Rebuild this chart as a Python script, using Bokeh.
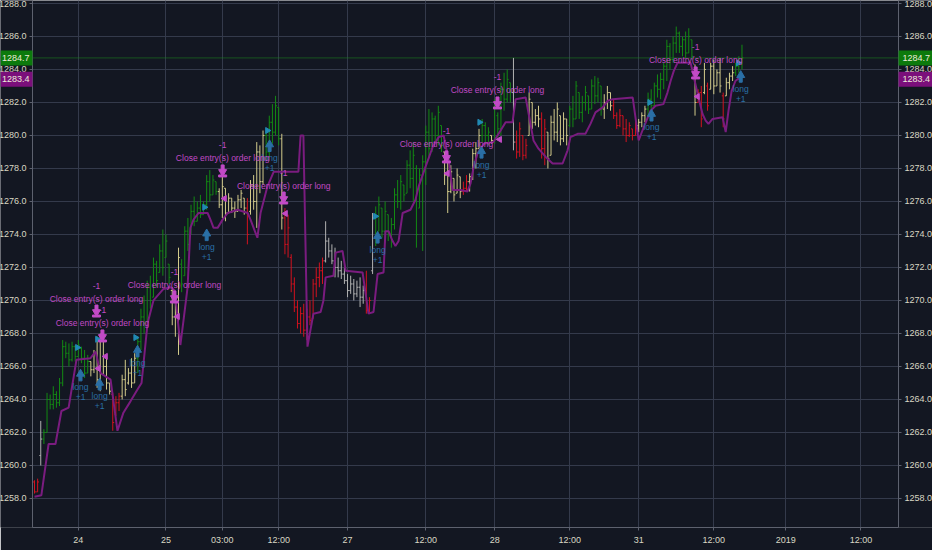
import math
from bokeh.plotting import figure
from bokeh.models import (LinearAxis, FixedTicker, SingleIntervalTicker, NumeralTickFormatter,
                          Span, Label, ColumnDataSource, Range1d, BoxAnnotation)
from bokeh.core.properties import value
from bokeh.embed import file_html
from bokeh.resources import INLINE

# ---------------- data ----------------
x_tick_pos = [14, 42, 60, 78, 100, 125, 147, 171, 193, 217, 240, 264]
x_tick_labels = ["24", "25", "03:00", "12:00", "27", "12:00", "28", "12:00", "31", "12:00", "2019", "12:00"]

bar_high = [
    1259.1, 1259.2, 1262.7, 1262.2, 1264.4, 1264.3, 1264.8, 1264.5, 1265.3, 1267.6,
    1267.5, 1267.4, 1267.5, 1267.3, 1267.6, 1267.2, 1267.0, 1266.7, 1266.3, 1267.0,
    1267.8, 1268.0, 1267.6, 1266.6, 1265.0, 1264.4, 1264.2, 1264.4, 1265.5, 1266.4,
    1265.9, 1266.5, 1266.8, 1267.8, 1269.5, 1270.3, 1271.2, 1271.5, 1272.6, 1272.4,
    1273.4, 1274.3, 1274.0, 1272.2, 1270.8, 1270.2, 1273.2, 1272.5, 1274.5, 1275.0,
    1275.8, 1276.3, 1276.0, 1276.4, 1276.0, 1277.6, 1277.9, 1277.6, 1277.2, 1276.8,
    1277.6, 1276.8, 1276.5, 1276.2, 1276.0, 1276.4, 1276.7, 1276.2, 1276.2, 1277.3,
    1277.6, 1279.6, 1279.4, 1280.3, 1280.2, 1281.2, 1281.9, 1282.4, 1281.7, 1280.1,
    1275.6, 1275.2, 1272.8, 1271.4, 1270.0, 1269.6, 1269.8, 1269.5, 1270.0, 1271.3,
    1272.0, 1272.3, 1272.6, 1274.8, 1273.8, 1273.4, 1273.2, 1272.6, 1272.4, 1272.0,
    1271.6, 1271.5, 1271.3, 1271.2, 1271.4, 1270.9, 1271.8, 1270.2, 1275.3, 1275.7,
    1276.3, 1275.6, 1276.0, 1275.2, 1275.0, 1276.8, 1277.3, 1277.6, 1277.0, 1278.5,
    1279.1, 1279.6, 1278.2, 1278.0, 1278.8, 1280.6, 1281.6, 1281.4, 1281.2, 1281.8,
    1280.6, 1279.0, 1278.5, 1278.2, 1277.4, 1278.0, 1277.5, 1277.2, 1277.6, 1277.7,
    1279.2, 1279.6, 1280.4, 1281.0, 1280.8, 1280.5, 1280.0, 1282.2, 1281.4, 1283.2,
    1283.8, 1284.0, 1283.2, 1284.7, 1280.3, 1280.8, 1280.0, 1279.8, 1282.6, 1282.0,
    1281.6, 1281.8, 1281.4, 1281.0, 1280.2, 1281.2, 1281.6, 1282.0, 1281.2, 1281.4,
    1281.0, 1281.8, 1282.4, 1283.3, 1282.6, 1282.4, 1283.0, 1282.4, 1283.4, 1283.6,
    1283.5, 1283.0, 1282.5, 1283.0, 1282.6, 1282.2, 1281.4, 1281.6, 1281.2, 1281.0,
    1280.8, 1280.4, 1280.9, 1281.0, 1281.4, 1281.8, 1282.6, 1282.8, 1283.2, 1283.7,
    1283.8, 1284.4, 1285.8, 1285.6, 1286.0, 1286.6, 1286.3, 1286.0, 1286.3, 1286.5,
    1285.8, 1284.3, 1282.8, 1283.0, 1284.4, 1283.2, 1284.4, 1284.6, 1284.0, 1284.7,
    1282.6, 1283.5, 1283.8, 1284.2, 1284.4, 1284.8, 1285.5,
]
bar_low = [
    1258.3, 1258.4, 1260.0, 1261.3, 1262.0, 1263.4, 1263.4, 1263.5, 1263.6, 1264.8,
    1266.5, 1266.0, 1266.3, 1266.3, 1266.6, 1266.2, 1265.3, 1265.6, 1265.4, 1265.6,
    1264.7, 1264.5, 1265.5, 1264.6, 1264.3, 1262.1, 1263.0, 1263.3, 1264.0, 1264.2,
    1264.9, 1264.7, 1265.0, 1265.6, 1267.0, 1268.0, 1268.7, 1269.5, 1270.2, 1270.8,
    1271.7, 1271.5, 1272.6, 1271.0, 1268.5, 1267.8, 1266.7, 1270.5, 1271.5, 1273.0,
    1274.0, 1274.5, 1274.8, 1275.0, 1275.2, 1275.5, 1276.0, 1276.4, 1276.4, 1275.6,
    1275.0, 1274.8, 1275.3, 1275.3, 1275.0, 1275.4, 1275.6, 1275.2, 1273.4, 1275.2,
    1275.5, 1274.4, 1276.5, 1277.0, 1278.5, 1278.7, 1279.5, 1280.0, 1279.4, 1274.3,
    1272.8, 1272.6, 1270.5, 1269.3, 1268.3, 1268.0, 1267.8, 1267.6, 1268.5, 1268.9,
    1270.2, 1270.8, 1271.0, 1272.3, 1272.6, 1272.2, 1271.4, 1271.4, 1271.3, 1271.0,
    1270.2, 1270.4, 1270.0, 1270.2, 1269.6, 1269.8, 1269.2, 1269.3, 1271.6, 1273.3,
    1274.2, 1273.8, 1273.5, 1273.6, 1273.2, 1274.3, 1275.6, 1275.5, 1276.0, 1276.5,
    1276.8, 1276.0, 1273.2, 1275.6, 1273.0, 1277.0, 1278.6, 1279.0, 1279.6, 1279.4,
    1279.0, 1277.0, 1275.3, 1276.5, 1276.0, 1276.5, 1276.2, 1276.4, 1276.6, 1276.6,
    1277.3, 1278.0, 1279.2, 1279.6, 1279.6, 1279.4, 1279.5, 1279.5, 1279.8, 1280.0,
    1281.5, 1282.0, 1282.0, 1279.1, 1278.6, 1278.7, 1278.5, 1278.6, 1280.0, 1280.4,
    1280.6, 1280.5, 1278.6, 1278.2, 1278.0, 1278.8, 1279.7, 1279.6, 1279.4, 1279.6,
    1279.4, 1280.5, 1280.5, 1281.0, 1281.0, 1280.8, 1281.5, 1281.3, 1281.6, 1281.9,
    1282.0, 1281.2, 1281.0, 1281.6, 1281.5, 1281.0, 1280.4, 1280.5, 1280.0, 1279.6,
    1279.9, 1279.7, 1280.0, 1280.2, 1280.5, 1280.8, 1281.2, 1281.4, 1281.8, 1282.3,
    1282.2, 1282.8, 1283.3, 1284.0, 1284.4, 1285.0, 1285.0, 1284.8, 1284.7, 1285.0,
    1284.6, 1281.2, 1282.0, 1280.5, 1282.5, 1281.5, 1282.8, 1282.5, 1283.0, 1282.6,
    1280.5, 1282.4, 1282.8, 1283.3, 1283.6, 1283.8, 1284.0,
]
bar_open = [
    1259.0, 1258.4, 1260.6, 1261.6, 1262.0, 1264.0, 1263.7, 1264.3, 1263.8, 1265.0,
    1267.2, 1266.8, 1266.4, 1267.2, 1266.6, 1267.1, 1266.5, 1265.6, 1266.3, 1265.8,
    1266.8, 1265.2, 1267.6, 1266.0, 1265.0, 1264.3, 1263.1, 1263.8, 1264.2, 1265.2,
    1265.0, 1265.6, 1265.0, 1266.5, 1267.5, 1269.0, 1268.7, 1270.8, 1270.2, 1272.2,
    1271.7, 1273.0, 1272.6, 1272.2, 1270.6, 1269.0, 1269.0, 1272.2, 1271.5, 1274.2,
    1274.2, 1275.4, 1274.8, 1275.6, 1275.2, 1275.8, 1277.2, 1276.4, 1277.2, 1276.6,
    1275.8, 1276.8, 1275.3, 1276.2, 1275.6, 1275.4, 1276.1, 1276.2, 1275.6, 1275.4,
    1277.0, 1276.0, 1279.0, 1277.2, 1280.0, 1279.0, 1280.8, 1280.2, 1281.7, 1279.8,
    1275.0, 1273.4, 1272.6, 1271.0, 1269.6, 1268.6, 1269.2, 1268.2, 1269.0, 1268.9,
    1271.0, 1271.4, 1271.8, 1272.4, 1273.6, 1273.0, 1272.4, 1272.0, 1271.8, 1271.6,
    1271.2, 1270.6, 1271.0, 1270.4, 1270.8, 1270.2, 1270.6, 1269.4, 1271.8, 1275.0,
    1274.2, 1275.6, 1274.2, 1275.2, 1274.0, 1274.6, 1276.4, 1276.0, 1277.0, 1276.5,
    1278.2, 1277.4, 1278.0, 1275.6, 1277.6, 1278.4, 1280.2, 1279.2, 1281.0, 1280.0,
    1280.6, 1279.0, 1277.6, 1276.6, 1277.4, 1276.5, 1277.5, 1276.6, 1276.8, 1277.2,
    1277.5, 1278.9, 1279.2, 1280.0, 1280.6, 1280.0, 1280.0, 1279.7, 1281.2, 1280.4,
    1282.8, 1282.2, 1283.2, 1282.6, 1279.6, 1279.0, 1280.0, 1278.8, 1280.0, 1282.0,
    1280.8, 1281.2, 1281.0, 1279.2, 1280.2, 1278.8, 1280.8, 1280.2, 1281.2, 1279.8,
    1281.0, 1280.6, 1281.6, 1281.0, 1282.6, 1281.4, 1282.0, 1282.4, 1281.6, 1283.0,
    1282.4, 1283.0, 1281.6, 1282.0, 1282.6, 1281.8, 1281.2, 1280.6, 1281.2, 1280.4,
    1280.0, 1280.4, 1280.0, 1280.6, 1280.8, 1281.2, 1281.6, 1282.2, 1281.8, 1283.0,
    1282.8, 1283.4, 1284.2, 1285.4, 1284.6, 1285.6, 1286.2, 1285.4, 1285.8, 1285.0,
    1285.8, 1284.0, 1282.0, 1282.6, 1282.6, 1283.0, 1282.8, 1284.2, 1283.0, 1283.8,
    1282.4, 1282.4, 1283.2, 1283.6, 1283.8, 1284.2, 1284.4,
]
bar_close = [
    1258.4, 1259.0, 1261.6, 1262.0, 1264.0, 1263.7, 1264.3, 1263.8, 1265.0, 1267.2,
    1266.8, 1266.4, 1267.2, 1266.6, 1267.3, 1266.5, 1265.6, 1266.3, 1265.8, 1266.8,
    1265.2, 1267.6, 1266.0, 1265.0, 1264.5, 1262.6, 1263.8, 1264.2, 1265.2, 1264.6,
    1265.6, 1265.0, 1266.5, 1267.5, 1269.0, 1268.6, 1270.8, 1270.0, 1272.2, 1271.2,
    1273.0, 1272.0, 1273.6, 1271.4, 1269.0, 1269.6, 1272.6, 1271.0, 1274.2, 1273.4,
    1275.4, 1274.8, 1275.6, 1275.2, 1275.8, 1277.2, 1276.4, 1277.3, 1276.6, 1275.8,
    1276.9, 1275.3, 1276.2, 1275.6, 1275.4, 1276.1, 1276.5, 1275.6, 1274.0, 1277.0,
    1276.0, 1279.0, 1277.2, 1280.0, 1279.0, 1280.8, 1280.2, 1281.8, 1279.8, 1275.0,
    1273.4, 1274.4, 1271.0, 1269.6, 1268.6, 1269.2, 1268.2, 1269.0, 1268.8, 1271.0,
    1271.4, 1271.8, 1272.4, 1273.6, 1273.0, 1272.4, 1272.0, 1271.8, 1271.6, 1271.2,
    1270.6, 1271.0, 1270.4, 1270.8, 1270.2, 1270.6, 1269.4, 1270.0, 1275.0, 1274.0,
    1275.8, 1274.2, 1275.4, 1274.0, 1274.6, 1276.4, 1276.0, 1277.2, 1276.4, 1278.2,
    1277.4, 1278.8, 1274.0, 1277.6, 1278.4, 1280.2, 1279.2, 1281.0, 1280.0, 1281.4,
    1279.4, 1277.6, 1276.6, 1277.8, 1276.4, 1277.6, 1276.6, 1276.8, 1277.2, 1277.5,
    1278.9, 1279.2, 1280.0, 1280.6, 1280.0, 1280.2, 1279.7, 1281.8, 1280.4, 1282.8,
    1282.2, 1283.4, 1282.6, 1279.6, 1279.0, 1280.4, 1278.8, 1279.4, 1282.2, 1280.8,
    1281.2, 1281.0, 1279.2, 1280.4, 1278.6, 1280.8, 1280.2, 1281.6, 1279.8, 1281.0,
    1280.0, 1281.6, 1281.0, 1283.0, 1281.4, 1282.0, 1282.6, 1281.6, 1283.0, 1282.4,
    1283.2, 1281.6, 1282.0, 1282.6, 1281.8, 1281.2, 1280.6, 1281.2, 1280.4, 1280.0,
    1280.6, 1280.0, 1280.6, 1280.8, 1281.2, 1281.6, 1282.2, 1281.8, 1283.0, 1282.8,
    1283.4, 1284.2, 1285.4, 1284.6, 1285.6, 1286.2, 1285.4, 1285.8, 1285.0, 1286.0,
    1284.8, 1282.0, 1282.6, 1281.0, 1284.0, 1281.8, 1284.2, 1283.0, 1283.8, 1283.0,
    1281.0, 1283.2, 1283.6, 1283.8, 1284.2, 1284.4, 1284.7,
]
# bar colour state (g = up-trend, y = neutral, r = down-trend, w = undecided), run lengths
bar_state_runs = [
    ("r", 2), ("w", 1), ("g", 15), ("y", 7), ("r", 3), ("y", 5), ("g", 11), ("y", 3),
    ("g", 12), ("y", 9), ("r", 1), ("y", 5), ("g", 5), ("y", 1), ("r", 13), ("w", 13),
    ("r", 2), ("w", 1), ("g", 22), ("y", 6), ("r", 2), ("y", 4), ("g", 3), ("y", 1),
    ("g", 6), ("w", 1), ("r", 4), ("y", 4), ("r", 2), ("y", 7), ("g", 11), ("y", 3),
    ("r", 8), ("y", 3), ("g", 15), ("y", 1), ("r", 2), ("y", 1), ("r", 1), ("y", 4),
    ("r", 1), ("y", 3), ("g", 3),
]

trail_idx = [
    0, 2.2, 4.5, 6.7, 8.6, 10.9, 13.4, 17.9, 19.5, 21.1,
    24.3, 26.5, 28.4, 30.7, 32.9, 34.2, 36.1, 38.0, 41.2, 43.5,
    44.8, 46.6, 47.6, 48.9, 49.8, 50.8, 52.4, 55.3, 56.2, 57.2,
    58.5, 60.1, 61.7, 64.9, 68.1, 69.0, 71.2, 72.2, 74.4, 76.4,
    84.3, 85.0, 85.9, 87.2, 89.1, 91.4, 92.3, 93.0, 95.5, 96.2,
    98.4, 99.4, 104.8, 106.7, 108.3, 109.6, 111.5, 112.1, 113.1, 114.4,
    115.3, 116.3, 117.6, 120.1, 121.7, 122.7, 124.9, 127.2, 129.1, 130.7,
    132.3, 133.5, 136.1, 138.3, 139.3, 140.3, 141.5, 143.5, 146.6, 148.9,
    150.5, 152.7, 153.7, 156.9, 159.4, 161.0, 163.3, 165.5, 168.7, 170.3,
    171.2, 173.5, 176.0, 177.6, 179.2, 181.5, 183.1, 184.7, 191.1, 193.0,
    194.2, 196.8, 198.4, 200.9, 202.2, 203.2, 204.2, 205.4, 209.6, 212.1,
    213.4, 214.4, 215.3, 216.6, 219.8, 220.8, 221.7, 222.7, 223.9, 224.9,
    226,
]
trail_val = [
    1258.1, 1258.2, 1261.3, 1261.3, 1263.3, 1263.5, 1266.4, 1266.5, 1266.9, 1265.6,
    1265.2, 1262.1, 1263.2, 1263.9, 1264.6, 1265.0, 1268.6, 1270.0, 1270.7, 1270.8,
    1270.6, 1267.3, 1268.8, 1270.8, 1274.4, 1274.9, 1275.3, 1275.3, 1274.9, 1274.4,
    1274.4, 1274.9, 1275.3, 1275.5, 1275.3, 1274.9, 1273.8, 1275.3, 1276.9, 1277.8,
    1277.8, 1280.0, 1280.0, 1267.2, 1269.2, 1269.3, 1270.0, 1271.4, 1271.5, 1272.9,
    1273.0, 1271.8, 1271.7, 1269.2, 1269.3, 1271.6, 1271.7, 1274.2, 1274.2, 1273.6,
    1273.3, 1273.6, 1275.3, 1275.5, 1276.1, 1276.9, 1278.1, 1279.3, 1279.9, 1280.0,
    1278.5, 1276.7, 1276.7, 1276.6, 1277.1, 1278.1, 1278.9, 1279.5, 1279.6, 1280.3,
    1280.8, 1280.8, 1282.2, 1282.3, 1279.7, 1279.2, 1278.7, 1278.3, 1278.3, 1279.1,
    1279.9, 1280.1, 1280.1, 1280.7, 1281.4, 1281.7, 1282.1, 1282.2, 1282.3, 1279.7,
    1280.3, 1281.5, 1281.8, 1281.9, 1282.6, 1283.3, 1283.9, 1284.4, 1284.4, 1282.3,
    1281.3, 1280.9, 1280.7, 1281.0, 1281.1, 1280.2, 1281.5, 1282.7, 1283.3, 1283.45,
    1283.4,
]

long_idx = [14.7, 20.8, 32.9, 55.0, 75.1, 109.6, 142.8, 197.1, 225.6]
long_price = [1265.4, 1264.85, 1266.85, 1273.9, 1279.3, 1273.75, 1278.9, 1281.15, 1283.5]
entry_mark_idx = [13.7, 20.1, 32.3, 54.3, 74.4, 108.9, 142.2, 196.5, 224.8]
entry_mark_price = [1267.15, 1267.65, 1267.75, 1275.65, 1280.3, 1275.1, 1280.8, 1282.0, 1284.4]

close_idx = [19.8, 21.7, 44.7, 60.1, 79.6, 131.6, 147.9, 211.2]
close_price = [1269.39, 1267.88, 1270.24, 1277.88, 1276.24, 1278.73, 1282.0, 1283.82]
exit_mark_idx = [20.4, 22.7, 45.7, 60.7, 80.2, 131.9, 148.6, 211.8]
exit_mark_price = [1265.88, 1266.61, 1269.03, 1276.18, 1275.27, 1277.7, 1279.76, 1282.36]

last_close = 1284.7
trail_last = 1283.4

# ---------------- styling ----------------
BG = "#131722"
GRID = "#343a4b"
AXIS = "#5d616e"
LAB = "#d9d8c4"
FONT = "Liberation Sans"
state_colors = {"g": "#138a13", "y": "#d3cb8b", "r": "#d3121f", "w": "#b2b2b2"}
BLUE = "#2a6fa6"
BLUE_MARK = "#2189b3"
MAG = "#c24ac6"
TRAIL = "#7a1c7f"

W, H = 932, 550
BOTTOM = 23
PLOT_L, PLOT_R = 32, 898          # pixel extent of the price pane
Y0, Y1 = 1256.24, 1288.18
XL, XR = -0.64, 276.0            # bar-index extent of the price pane
PPX = (PLOT_R - PLOT_L) / (XR - XL)
X0 = XL - PLOT_L / PPX
X1 = XR + (W - PLOT_R) / PPX
PXU = (H - BOTTOM) / (Y1 - Y0)    # pixels per price unit


def px(n):
    return n / PXU


p = figure(width=W, height=H, output_backend="svg", toolbar_location=None,
           x_range=Range1d(X0, X1), y_range=Range1d(Y0, Y1),
           background_fill_color=BG, border_fill_color=BG,
           min_border_left=0, min_border_right=0, min_border_top=0,
           min_border_bottom=BOTTOM)
p.outline_line_color = None

yt = SingleIntervalTicker(interval=2)
fmt = NumeralTickFormatter(format="0.0")
p.yaxis.ticker = yt
p.yaxis.formatter = fmt
p.yaxis.fixed_location = XL
right_axis = LinearAxis(ticker=yt, formatter=fmt, fixed_location=XR)
p.add_layout(right_axis, "right")
p.xaxis.ticker = FixedTicker(ticks=x_tick_pos)
p.xaxis.major_label_overrides = {t: l for t, l in zip(x_tick_pos, x_tick_labels)}
p.xaxis.bounds = (XL, XR)

for ax in [p.xaxis[0], p.yaxis[0], right_axis]:
    ax.axis_line_color = AXIS
    ax.major_tick_line_color = AXIS
    ax.major_tick_out = 3
    ax.major_tick_in = 0
    ax.minor_tick_line_color = None
    ax.major_label_text_color = LAB
    ax.major_label_text_font = FONT
    ax.major_label_text_font_size = "9px"
    ax.major_label_standoff = 2
p.xaxis.major_label_standoff = 4

p.xgrid.grid_line_color = GRID
p.ygrid.grid_line_color = GRID

# last price line (kept under the axis-area masks)
p.add_layout(Span(location=last_close, dimension="width", line_color="#1c8f1c",
                  line_dash="1 1", line_width=1, level="underlay"))
# keep the axis areas clear of grid lines
p.add_layout(BoxAnnotation(right=XL, fill_color=BG, fill_alpha=1, line_color=None, level="underlay"))
p.add_layout(BoxAnnotation(left=XR, fill_color=BG, fill_alpha=1, line_color=None, level="underlay"))

# OHLC bars
N = len(bar_close)
states = "".join(s * n for s, n in bar_state_runs)
xs = list(range(N))
src = ColumnDataSource(dict(
    x=xs, xl=[x - 0.45 for x in xs], xr=[x + 0.45 for x in xs],
    high=bar_high, low=bar_low, open=bar_open, close=bar_close,
    color=[state_colors[s] for s in states[:N]],
))
p.segment(x0="x", y0="low", x1="x", y1="high", color="color", line_width=1, source=src)
p.segment(x0="xl", y0="open", x1="x", y1="open", color="color", line_width=1, source=src)
p.segment(x0="x", y0="close", x1="xr", y1="close", color="color", line_width=1, source=src)

# trailing line
p.line(trail_idx, trail_val, color=TRAIL, line_width=2)

# entry / exit small triangles
p.scatter(entry_mark_idx, entry_mark_price, marker="triangle", angle=-math.pi / 2,
          size=6, color=BLUE_MARK)
p.scatter(exit_mark_idx, exit_mark_price, marker="triangle", angle=math.pi / 2,
          size=6, color=MAG)

TXT = "8.5px"
# long entry arrows (pointing up) and texts
p.scatter(long_idx, [v + px(2.5) for v in long_price], marker="triangle", size=8, color=BLUE)
p.rect(long_idx, [v - px(2.0) for v in long_price], width=3, height=5,
       width_units="screen", height_units="screen", color=BLUE)
p.text(long_idx, [v - px(11) for v in long_price], text=["long"] * len(long_idx),
       text_align="center", text_baseline="middle", text_font=value(FONT),
       text_font_size=TXT, text_color=BLUE)
p.text(long_idx, [v - px(21) for v in long_price], text=["+1"] * len(long_idx),
       text_align="center", text_baseline="middle", text_font=value(FONT),
       text_font_size=TXT, text_color=BLUE)

# close arrows (pointing down, with base bar) and texts
p.rect(close_idx, [v + px(3) for v in close_price], width=3, height=5,
       width_units="screen", height_units="screen", color=MAG)
p.scatter(close_idx, [v - px(1.5) for v in close_price], marker="inverted_triangle",
          size=8, color=MAG)
p.rect(close_idx, [v - px(5.5) for v in close_price], width=8, height=2,
       width_units="screen", height_units="screen", color=MAG)
p.text(close_idx, [v + px(12) for v in close_price],
       text=["Close entry(s) order long"] * len(close_idx),
       text_align="center", text_baseline="middle", text_font=value(FONT),
       text_font_size=TXT, text_color=MAG)
p.text(close_idx, [v + px(25) for v in close_price], text=["-1"] * len(close_idx),
       text_align="center", text_baseline="middle", text_font=value(FONT),
       text_font_size=TXT, text_color=MAG)

# price boxes on both axes
for val, bg in [(last_close, "#0c7a0c"), (trail_last, "#7b0f7b")]:
    half = px(7.5)
    p.add_layout(BoxAnnotation(left=XR, bottom=val - half, top=val + half,
                               fill_color=bg, fill_alpha=1, line_color=None))
    p.add_layout(BoxAnnotation(right=XL, bottom=val - half, top=val + half,
                               fill_color=bg, fill_alpha=1, line_color=None))
    for xpos, off, align in [(XR, 4, "left"), (XL, -3, "right")]:
        p.add_layout(Label(x=xpos, y=val, x_offset=off, text=f"{val:.1f}",
                           text_align=align, text_baseline="middle",
                           text_color="#ecebd9", text_font=FONT, text_font_size="9px"))

open("out.html", "w").write(file_html(p, INLINE))
